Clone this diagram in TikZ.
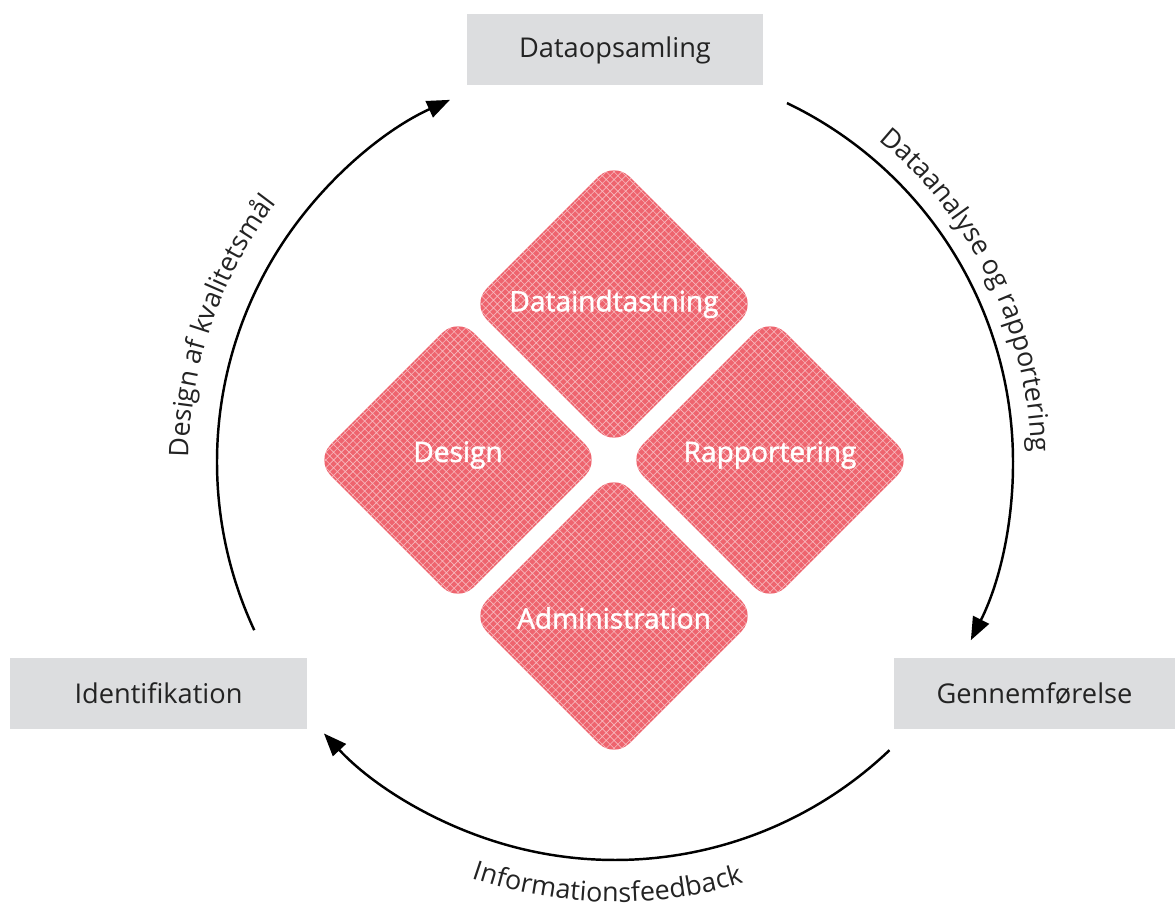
\documentclass[tikz,border=0pt]{standalone}
\usepackage{fontspec}
\setmainfont{Open Sans}
\usetikzlibrary{arrows.meta,decorations.text}

\definecolor{boxgray}{RGB}{220,221,223}
\definecolor{tilered}{RGB}{238,100,110}
\definecolor{labelgray}{RGB}{35,35,35}

\begin{document}
\begin{tikzpicture}[x=0.02cm,y=0.02cm,
  stage/.style={fill=boxgray,minimum width=5.94cm,minimum height=1.42cm,inner sep=0pt,
    text=labelgray,font=\fontsize{15.5}{18}\selectfont},
  tile/.style={fill=tilered,minimum size=4.04cm,rounded corners=0.44cm,rotate=45,inner sep=0pt,
    path picture={\draw[reset cm,white,opacity=0.55,line width=0.35pt,step=0.11cm]
      ([shift={(-3cm,-3cm)}]path picture bounding box.center) grid
      ([shift={(3cm,3cm)}]path picture bounding box.center);}},
  tiletext/.style={text=white,font=\fontsize{16}{19}\selectfont\addfontfeatures{FakeBold=1.6}},
  flow/.style={line width=1.4pt,-{Triangle[length=13pt,width=10pt]}},
  arclabel/.style={decorate,decoration={text along path,text align=center,
    text={|\color{labelgray}\fontsize{15.3}{18}\selectfont|#1}}}
]
\useasboundingbox (0,0) rectangle (1175,909);

% Stages
\node[stage] (collect) at (615,859) {Dataopsamling};
\node[stage] (ident) at (158.5,215.5) {Identifikation};
\node[stage,minimum width=5.62cm] (exec) at (1034.5,215.5) {Gennemførelse};

% Tiles
\node[tile] (entry) at (614,605) {};
\node[tile] (design) at (458,449) {};
\node[tile] (report) at (770,449) {};
\node[tile] (admin) at (614,293) {};
\node[tiletext] (entrytext) at (entry.center) {Dataindtastning};
\node[tiletext] (designtext) at ([yshift=0.1cm]design.center) {Design};
\node[tiletext] (reporttext) at ([yshift=0.1cm]report.center) {Rapportering};
\node[tiletext] (admintext) at ([yshift=-0.04cm]admin.center) {Administration};

% Cycle
\coordinate (c) at (615,447);
\coordinate (ident-out) at ([shift={(205:398)}]c);
\coordinate (collect-out) at ([shift={(64.4:398)}]c);
\coordinate (exec-out) at ([shift={(-46.4:398)}]c);
\draw[flow] (ident-out) arc[start angle=205,end angle=114.5,radius=398];
\draw[flow] (collect-out) arc[start angle=64.4,end angle=-26.6,radius=398];
\draw[flow] (exec-out) arc[start angle=-46.4,end angle=-137,radius=398];

% Labels
\path[arclabel={Design af kvalitetsmål}] ([shift={(201:426)}]c) arc[start angle=201,end angle=121,radius=426];
\path[arclabel={Dataanalyse og rapportering}] ([shift={(66:416)}]c) arc[start angle=66,end angle=-14,radius=416];
\path[arclabel={Informationsfeedback}] ([shift={(-131:440)}]c) arc[start angle=-131,end angle=-51,radius=440];
\end{tikzpicture}
\end{document}
